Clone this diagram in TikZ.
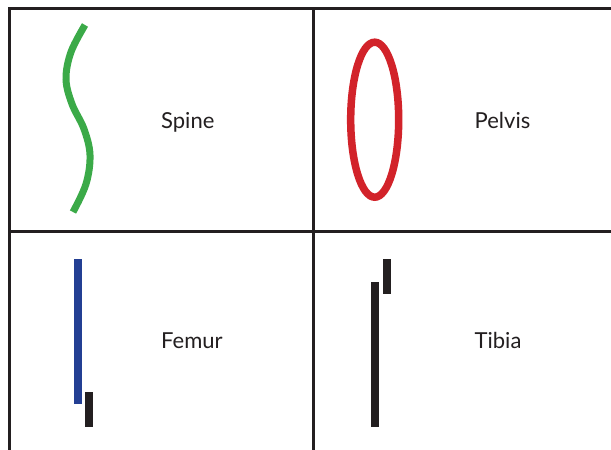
\documentclass[tikz,border=0pt]{standalone}
\usepackage{fontspec}
\setmainfont{Lato}
\definecolor{gridc}{HTML}{231F20}
\definecolor{spinec}{HTML}{3BAA48}
\definecolor{pelvc}{HTML}{D2232A}
\definecolor{femc}{HTML}{233F93}
\definecolor{barc}{HTML}{231F20}
\tikzset{
  gridline/.style={draw=gridc, line width=3pt},
  label/.style={anchor=base west, inner sep=0pt, font=\fontsize{22}{26}\selectfont, text=gridc},
}
\begin{document}
\begin{tikzpicture}[x=1pt,y=-1pt]
\useasboundingbox (0,0) rectangle (611,450);
\fill[white] (0,0) rectangle (611,450);
% grid
\draw[gridline] (9,450) -- (9,8.5) -- (611,8.5);
\draw[gridline] (313,8.5) -- (313,450);
\draw[gridline] (9,231) -- (611,231);
% spine
\draw[spinec, line width=7pt] plot[smooth, tension=0.6] coordinates
  {(85,25) (71,52) (66,79) (72,104) (84,129) (90,155) (86,184) (73,212)};
% pelvis
\draw[pelvc, line width=7.5pt] (374.7,119.7) ellipse [x radius=24, y radius=77.5];
% femur
\fill[femc] (73.5,259) rectangle (81.5,403.5);
\fill[barc] (85,392) rectangle (93,427);
% tibia
\fill[barc] (371,282) rectangle (379,427);
\fill[barc] (383,259) rectangle (391,294);
% labels
\node[label] (spine) at (161,128.5) {Spine};
\node[label] (pelvis) at (474.5,128.3) {Pelvis};
\node[label] (femur) at (161,348) {Femur};
\node[label] (tibia) at (474.5,348) {Tibia};
\end{tikzpicture}
\end{document}
